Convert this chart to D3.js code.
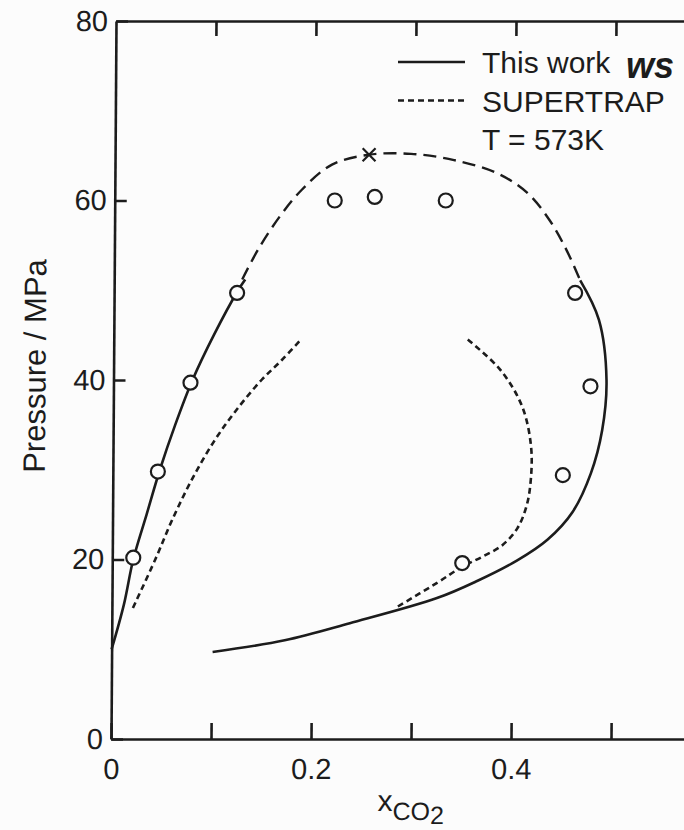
<!DOCTYPE html>
<html>
<head>
<meta charset="utf-8">
<script src="https://cdn.jsdelivr.net/npm/d3@7"></script>
<style>
  body { margin: 0; background: #fcfcfc; }
  svg { display: block; }
  text { font-family: "Liberation Sans", Arial, Helvetica, sans-serif; fill: #1c1c1c; }
</style>
</head>
<body>
<div id="chart-area"></div>
<script>
// x: mole fraction CO2, y: pressure / MPa
const xTicks = [0, 0.1, 0.2, 0.3, 0.4, 0.5];
const xLabels = ["0", "", "0.2", "", "0.4", ""];
const yTicks = [0, 20, 40, 60, 80];

// experimental points (circles)
const expX = [0.021, 0.045, 0.077, 0.123, 0.22, 0.26, 0.331, 0.461, 0.477, 0.45, 0.35];
const expY = [20.2, 29.8, 39.7, 49.7, 60.0, 60.4, 60.0, 49.7, 39.3, 29.4, 19.6];

// critical point (x marker)
const critX = [0.254];
const critY = [65.1];

// "This work" curve: solid left branch, dashed top, solid right / lower branch
const leftX = [0, 0.012, 0.021, 0.034, 0.047, 0.062, 0.079, 0.1, 0.124, 0.131];
const leftY = [10, 15, 20, 25, 30, 35, 40, 45, 50, 51.2];
const topX = [0.128, 0.1435, 0.165, 0.187, 0.217, 0.254, 0.296, 0.339, 0.383, 0.413, 0.435, 0.452, 0.466];
const topY = [51.2, 54.5, 58.2, 61.2, 64.0, 65.1, 65.2, 64.5, 63.0, 60.8, 57.8, 54.5, 51.1];
const rightX = [0.466, 0.485, 0.493, 0.489, 0.478, 0.46, 0.435, 0.405, 0.365, 0.325, 0.238, 0.173, 0.101];
const rightY = [51.1, 46.7, 40.0, 34.4, 29.6, 25.3, 22.2, 19.9, 17.6, 15.7, 12.9, 11.0, 9.7];

// SUPERTRAP curve, two dotted branches
const stLeftX = [0.021, 0.043, 0.06, 0.079, 0.1, 0.122, 0.148, 0.168, 0.188];
const stLeftY = [14.6, 20, 24.5, 28.9, 33, 36.5, 40, 42.2, 44.6];
const stRightX = [0.354, 0.387, 0.409, 0.418, 0.418, 0.414, 0.405, 0.39, 0.37, 0.35, 0.325, 0.285];
const stRightY = [44.5, 41.1, 37.0, 32.6, 28.9, 26.0, 23.5, 21.6, 20.3, 19.2, 17.4, 14.7];

const W = 684, H = 830;
const plotLeft = 111, plotTop = 21, plotBottom = 739;
const ink = "#1c1c1c";

const svg = d3.select("#chart-area")
  .append("svg")
  .attr("width", W)
  .attr("height", H);

// the scan is slightly sheared: left axis leans to the right at the top
const g = svg.append("g")
  .attr("transform", `translate(0, ${plotBottom}) skewX(-0.4) translate(0, ${-plotBottom})`);

const x = d3.scaleLinear().domain([0, (W - plotLeft) / 1000]).range([plotLeft, W]);
const y = d3.scaleLinear().domain([0, 80]).range([plotBottom, plotTop]);

const xAxis = d3.axisBottom(x)
  .tickValues(xTicks)
  .tickFormat((d, i) => xLabels[i])
  .tickSizeInner(-16)
  .tickSizeOuter(0)
  .tickPadding(19);

const xTop = d3.axisTop(x)
  .tickValues(xTicks.slice(1))
  .tickFormat("")
  .tickSizeInner(-15)
  .tickSizeOuter(0);

const yAxis = d3.axisLeft(y)
  .tickValues(yTicks)
  .tickSizeInner(-12)
  .tickSizeOuter(0)
  .tickPadding(8);

function styleAxis(sel) {
  sel.selectAll("path, line").attr("stroke", ink).attr("stroke-width", 2.6);
  sel.selectAll("text").attr("font-size", "29px").attr("fill", ink);
}

g.append("g").attr("transform", `translate(0, ${plotBottom})`).call(xAxis).call(styleAxis);
g.append("g").attr("transform", `translate(0, ${plotTop})`).call(xTop).call(styleAxis);
g.append("g").attr("transform", `translate(${plotLeft}, 0)`).call(yAxis).call(styleAxis);

// axis titles
g.append("text")
  .attr("transform", "rotate(-90)")
  .attr("x", -366)
  .attr("y", 43)
  .attr("text-anchor", "middle")
  .attr("font-size", "31px")
  .text("Pressure / MPa");

const xt = g.append("text")
  .attr("x", 378)
  .attr("y", 811)
  .attr("font-size", "30px");
xt.append("tspan").text("x");
xt.append("tspan").attr("dy", 9).attr("font-size", "25px").text("CO");
xt.append("tspan").attr("dy", 4).attr("font-size", "25px").text("2");

// curves
const line = d3.line()
  .x(d => x(d[0]))
  .y(d => y(d[1]))
  .curve(d3.curveCatmullRom.alpha(0.5));

const zip = (a, b) => a.map((v, i) => [v, b[i]]);

const curves = [
  { pts: zip(leftX, leftY), dash: null, w: 2.6 },
  { pts: zip(topX, topY), dash: "13,7", w: 2.4 },
  { pts: zip(rightX, rightY), dash: null, w: 2.6 },
  { pts: zip(stLeftX, stLeftY), dash: "6,4", w: 2.6 },
  { pts: zip(stRightX, stRightY), dash: "6,4", w: 2.6 }
];

g.selectAll("path.curve")
  .data(curves)
  .enter()
  .append("path")
  .attr("class", "curve")
  .attr("d", d => line(d.pts))
  .attr("fill", "none")
  .attr("stroke", ink)
  .attr("stroke-width", d => d.w)
  .attr("stroke-dasharray", d => d.dash);

// experimental circles
g.selectAll("circle.exp")
  .data(zip(expX, expY))
  .enter()
  .append("circle")
  .attr("class", "exp")
  .attr("cx", d => x(d[0]))
  .attr("cy", d => y(d[1]))
  .attr("r", 7)
  .attr("fill", "#fcfcfc")
  .attr("stroke", ink)
  .attr("stroke-width", 2.2);

// critical point
const cross = d3.symbol().type(d3.symbolX).size(110);
g.selectAll("path.crit")
  .data(zip(critX, critY))
  .enter()
  .append("path")
  .attr("class", "crit")
  .attr("transform", d => `translate(${x(d[0])}, ${y(d[1])})`)
  .attr("d", cross)
  .attr("fill", "none")
  .attr("stroke", ink)
  .attr("stroke-width", 2.2);

// legend
const legend = [
  { label: "This work", dash: null },
  { label: "SUPERTRAP", dash: "6,4" },
  { label: "T = 573K", dash: "none" }
];

const lg = svg.append("g");
legend.forEach((d, i) => {
  const base = 73 + i * 38.5;
  if (d.dash !== "none") {
    lg.append("line")
      .attr("x1", 398).attr("x2", 465)
      .attr("y1", base - 11).attr("y2", base - 11)
      .attr("stroke", ink)
      .attr("stroke-width", 2.6)
      .attr("stroke-dasharray", d.dash);
  }
  lg.append("text")
    .attr("x", 482)
    .attr("y", base)
    .attr("font-size", "30px")
    .text(d.label);
});

// handwritten mark on the scan
lg.append("text")
  .attr("x", 626)
  .attr("y", 78)
  .attr("font-family", "DejaVu Serif, serif")
  .attr("font-style", "italic")
  .attr("font-weight", "bold")
  .attr("font-size", "36px")
  .attr("fill", "#111")
  .text("ws");
</script>
</body>
</html>
